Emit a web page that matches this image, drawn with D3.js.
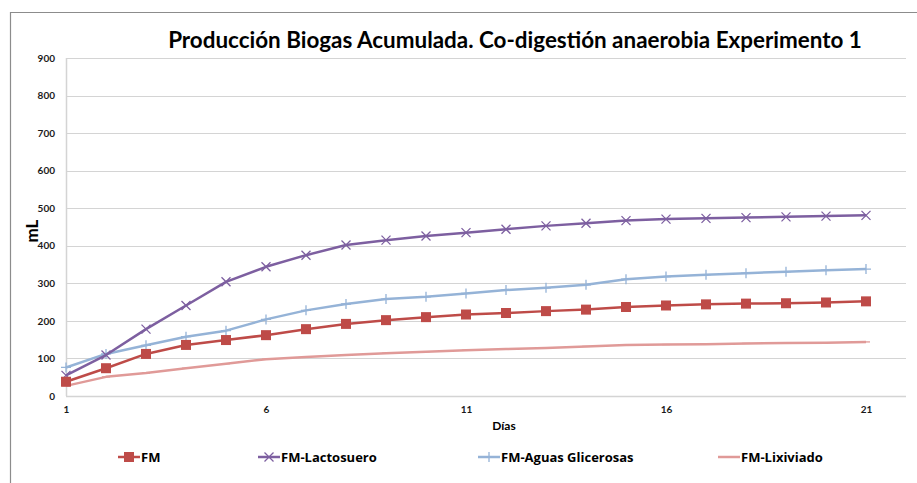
<!DOCTYPE html>
<html>
<head>
<meta charset="utf-8">
<script src="https://cdn.jsdelivr.net/npm/d3@7"></script>
<style>
  body { margin: 0; background: #fff; }
  text { font-family: Lato, "Open Sans", sans-serif; }
</style>
</head>
<body>
<div id="chart"></div>
<script>
// Data
var days = d3.range(1, 22);
var fm = [38, 74, 112, 136, 149, 162, 178, 192, 202, 210, 217, 221, 226, 230, 237, 241, 244, 246, 247, 249, 252];
var lactosuero = [55, 109, 178, 241, 304, 344, 375, 402, 415, 426, 435, 444, 453, 460, 467, 471, 473, 475, 477, 479, 481];
var aguas = [76, 112, 135, 158, 174, 204, 228, 245, 258, 264, 273, 282, 288, 296, 311, 318, 323, 327, 331, 335, 338];
var lixiviado = [27, 51, 61, 74, 86, 98, 104, 109, 114, 118, 122, 125, 128, 132, 136, 137, 138, 140, 141, 142, 144];
var xTicks = [1, 6, 11, 16, 21];
var yTicks = d3.range(0, 901, 100);

var seriesNames = ["FM", "FM-Lactosuero", "FM-Aguas Glicerosas", "FM-Lixiviado"];
var seriesValues = [fm, lactosuero, aguas, lixiviado];
var colors = ["#be4b48", "#7d5fa0", "#95b3d7", "#e09a98"];
var markers = ["square", "cross", "plus", "dash"];

var svgWidth = 917, svgHeight = 483;
var plot = { left: 66, top: 58, right: 906, bottom: 396 };

var svg = d3.select("#chart").append("svg").attr("width", svgWidth).attr("height", svgHeight);

// outer frame (cut at right/bottom like the screenshot)
svg.append("path").attr("d", "M10.5,483 V12.5 H917").attr("fill", "none").attr("stroke", "#8c8c8c").attr("stroke-width", 1.2);

var x = d3.scaleLinear().domain([1, 22]).range([plot.left, plot.right]);
var y = d3.scaleLinear().domain([0, 900]).range([plot.bottom, plot.top]);

// gridlines
svg.append("g").selectAll("line").data(yTicks.filter(d => d > 0)).enter().append("line")
  .attr("x1", plot.left).attr("x2", plot.right)
  .attr("y1", d => Math.round(y(d)) + 0.5).attr("y2", d => Math.round(y(d)) + 0.5)
  .attr("stroke", "#d4d4d4").attr("stroke-width", 1);

// axes lines
svg.append("line").attr("x1", plot.left + 0.5).attr("x2", plot.left + 0.5).attr("y1", plot.top).attr("y2", plot.bottom)
  .attr("stroke", "#d4d4d4").attr("stroke-width", 1.5);
svg.append("line").attr("x1", plot.left).attr("x2", plot.right).attr("y1", plot.bottom + 0.5).attr("y2", plot.bottom + 0.5)
  .attr("stroke", "#d4d4d4").attr("stroke-width", 1.5);

// y tick labels
var leftAxis = d3.axisLeft(y).tickValues(yTicks).tickSize(0).tickPadding(11);
var yAxis = svg.append("g").attr("transform", `translate(${plot.left}, 0)`).call(leftAxis);
yAxis.select(".domain").remove();
yAxis.selectAll("text").style("font-size", "10px").style("font-weight", "bold").attr("fill", "#1a1a1a");

// x tick labels
var bottomAxis = d3.axisBottom(x).tickValues(xTicks).tickSize(0).tickPadding(10).tickFormat(d3.format("d"));
var xAxis = svg.append("g").attr("transform", `translate(0, ${plot.bottom})`).call(bottomAxis);
xAxis.select(".domain").remove();
xAxis.selectAll("text").style("font-size", "10px").style("font-weight", "bold").attr("fill", "#1a1a1a");

// titles
var title = svg.append("text").attr("x", 515).attr("y", 48).attr("text-anchor", "middle")
  .style("font-size", "21px").style("font-weight", "bold").attr("fill", "#000")
  .text("Producción Biogas Acumulada. Co-digestión anaerobia Experimento 1");
var tw = title.node().getComputedTextLength();
title.style("font-size", (21 * 694 / tw).toFixed(2) + "px");

svg.append("text").attr("transform", "translate(38, 231) rotate(-90)").attr("text-anchor", "middle")
  .style("font-size", "17px").style("font-weight", "bold").text("mL");

svg.append("text").attr("x", 504).attr("y", 430).attr("text-anchor", "middle")
  .style("font-size", "12px").style("font-weight", "bold").text("Días");

// marker drawing
function drawMarker(g, type, color) {
  if (type === "square") {
    g.append("rect").attr("x", -5).attr("y", -5).attr("width", 10).attr("height", 10).attr("fill", color);
  } else if (type === "cross") {
    g.append("path").attr("d", "M-4.5,-4.5L4.5,4.5M-4.5,4.5L4.5,-4.5").attr("stroke", color).attr("stroke-width", 1.3).attr("fill", "none");
  } else if (type === "plus") {
    g.append("path").attr("d", "M-5,0H5M0,-5V5").attr("stroke", color).attr("stroke-width", 1.3).attr("fill", "none");
  } else {
    g.append("path").attr("d", "M-4,0H4").attr("stroke", color).attr("stroke-width", 1.3).attr("fill", "none");
  }
}

var line = d3.line().x((d, i) => x(days[i])).y(d => y(d));

// draw series, last first so FM is on top
for (var s = seriesValues.length - 1; s >= 0; s--) {
  var sg = svg.append("g");
  sg.append("path").datum(seriesValues[s]).attr("d", line)
    .attr("fill", "none").attr("stroke", colors[s]).attr("stroke-width", 2.5).attr("stroke-linejoin", "round");
  sg.selectAll("g.pt").data(seriesValues[s]).enter().append("g").attr("class", "pt")
    .attr("transform", (d, i) => `translate(${x(days[i])}, ${y(d)})`)
    .each(function() { drawMarker(d3.select(this), markers[s], colors[s]); });
}

// legend
var legendX = [118, 258, 478, 718];
var legend = svg.append("g");
seriesNames.forEach(function(name, i) {
  var lg = legend.append("g").attr("transform", `translate(${legendX[i]}, 457)`);
  lg.append("line").attr("x1", 0).attr("x2", 22).attr("y1", 0).attr("y2", 0).attr("stroke", colors[i]).attr("stroke-width", 2.5);
  var m = lg.append("g").attr("transform", "translate(11, 0)");
  drawMarker(m, markers[i], colors[i]);
  lg.append("text").attr("x", 23).attr("y", 5).style("font-family", "'Open Sans', sans-serif")
    .style("font-size", "13px").style("font-weight", "bold").text(name);
});
</script>
</body>
</html>
